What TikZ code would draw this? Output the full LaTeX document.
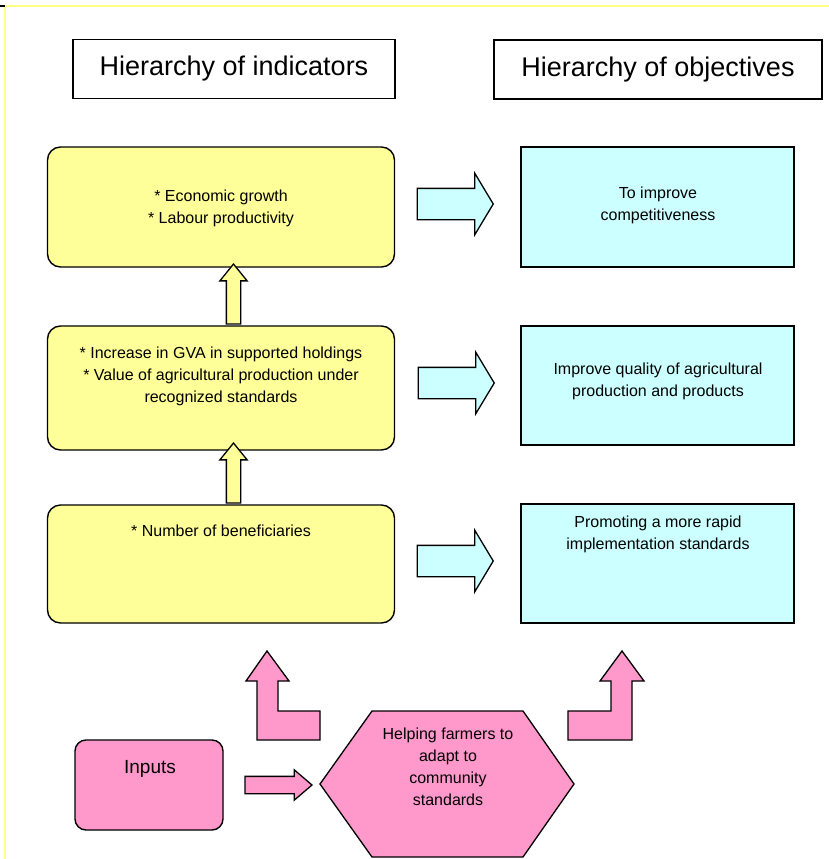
\documentclass[tikz,border=0pt]{standalone}
\usepackage{fontspec}
\setmainfont{Liberation Sans}
\usetikzlibrary{shapes.arrows}

\definecolor{indyellow}{HTML}{FFFF99}
\definecolor{objcyan}{HTML}{CCFFFF}
\definecolor{inpink}{HTML}{FF99CC}
\definecolor{frameyellow}{HTML}{FFFF88}

\tikzset{
  head/.style={draw, line width=1.2pt, inner sep=0, minimum width=322, minimum height=59,
    font=\fontsize{27}{32}\selectfont},
  indbox/.style={draw, line width=1.4pt, fill=indyellow, rounded corners=13, inner sep=0,
    minimum width=347, minimum height=120},
  objbox/.style={draw, line width=1.4pt, fill=objcyan, inner sep=0,
    minimum width=273, minimum height=120},
  inbox/.style={draw, line width=1.4pt, fill=inpink, rounded corners=11, inner sep=0,
    minimum width=148, minimum height=90},
  txt/.style={align=center, inner sep=0, font=\fontsize{16}{22}\selectfont},
  uparrow/.style={single arrow, draw, line width=1.3pt, fill=indyellow, inner xsep=0,
    inner ysep=6.5, single arrow head extend=6.5, single arrow tip angle=78,
    minimum height=60, rotate=90, anchor=tip},
  rarrow/.style={single arrow, draw, line width=1.3pt, fill=objcyan, inner xsep=0,
    inner ysep=15, single arrow head extend=15, single arrow tip angle=118,
    minimum height=76, anchor=tip},
  inarrow/.style={single arrow, draw, line width=1.3pt, fill=inpink, inner xsep=0,
    inner ysep=8, single arrow head extend=6.5, single arrow tip angle=81,
    minimum height=67, anchor=tip},
  parrow/.style={draw, line width=1.3pt, fill=inpink, line join=miter},
}

\begin{document}
\begin{tikzpicture}[x=1pt, y=-1pt]
\useasboundingbox (0,0) rectangle (829,859);

% frame
\draw[frameyellow, line width=2pt] (5,6) -- (829,6) (5,6) -- (5,859);
\draw[line width=2pt] (0,6) -- (5,6);

% headings
\node[head] (hind) at (234,69) {Hierarchy of indicators};
\node[head, minimum width=328] (hobj) at (658,69.5) {Hierarchy of objectives};

% indicators
\node[indbox] (ind1) at (221,207) {};
\node[indbox, minimum height=124] (ind2) at (221,388) {};
\node[indbox, minimum height=118] (ind3) at (221,564) {};
\node[txt] (ind1t) at (221,208) {* Economic growth\\* Labour productivity};
\node[txt] (ind2t) at (221,376) {* Increase in GVA in supported holdings\\
  * Value of agricultural production under\\recognized standards};
\node[txt] (ind3t) at (221,531) {* Number of beneficiaries};

% objectives
\node[objbox] (obj1) at (657.5,207) {};
\node[objbox, minimum height=119] (obj2) at (657.5,385.5) {};
\node[objbox, minimum height=119] (obj3) at (657.5,563.5) {};
\node[txt] (obj1t) at (658,205.5) {To improve\\competitiveness};
\node[txt] (obj2t) at (658,381) {Improve quality of agricultural\\production and products};
\node[txt] (obj3t) at (658,534) {Promoting a more rapid\\implementation standards};

% arrows between levels
\node[uparrow] (up1) at (233.5,263) {};
\node[uparrow] (up2) at (233.5,442) {};
\node[rarrow] (ra1) at (494,204) {};
\node[rarrow] (ra2) at (495,383) {};
\node[rarrow] (ra3) at (494,561) {};

% inputs and measure
\node[inbox] (inp) at (149,785) {};
\node[txt, font=\fontsize{19}{23}\selectfont] (inpt) at (150,769) {Inputs};
\draw[parrow] (372,711) -- (523,711) -- (574,784) -- (523,857) -- (372,857) -- (320,784) -- cycle;
\node[txt] (help) at (448,767) {Helping farmers to\\adapt to\\community\\standards};
\node[inarrow] (ra4) at (313,785) {};

% bent arrows
\draw[parrow] (267,651) -- (289,681) -- (278,681) -- (278,711) -- (320,711) -- (320,740)
  -- (257,740) -- (257,681) -- (246,681) -- cycle;
\draw[parrow] (622,651) -- (644,681) -- (632,681) -- (632,740) -- (568,740) -- (568,711)
  -- (611,711) -- (611,681) -- (600,681) -- cycle;
\end{tikzpicture}
\end{document}
